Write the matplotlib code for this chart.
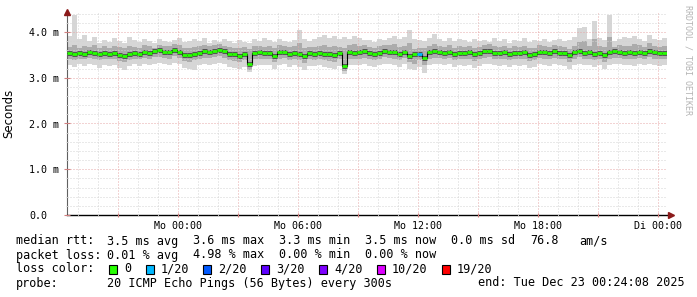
import numpy as np
import matplotlib
matplotlib.use('Agg')
import matplotlib.pyplot as plt
from matplotlib.patches import Rectangle

# ---- data (rtt values in 1/100 ms, one sample every 15 min) ----
start_h = -5.55          # hours relative to Mo 00:00
step_h = 0.25

median_rtt = [
    354, 352, 355, 353, 356, 354, 352, 355, 353, 354,
    350, 347, 352, 355, 353, 356, 354, 358, 360, 357,
    356, 361, 357, 350, 349, 352, 355, 358, 357, 359,
    361, 358, 353, 351, 348, 352, 330, 354, 356, 355,
    355, 348, 356, 357, 353, 355, 352, 347, 354, 353,
    355, 352, 351, 349, 354, 325, 356, 355, 356, 358,
    354, 353, 355, 359, 357, 356, 352, 357, 348, 351,
    352, 344, 356, 358, 357, 355, 357, 353, 355, 354,
    356, 351, 354, 358, 359, 355, 354, 356, 353, 355,
    354, 356, 350, 352, 357, 356, 354, 358, 355, 354,
    349, 356, 359, 355, 356, 353, 355, 349, 356, 358,
    357, 355, 356, 354, 357, 355, 359, 356, 354, 355,
]
max_rtt = [
    392, 437, 384, 393, 380, 388, 376, 382, 379, 386,
    381, 377, 389, 383, 378, 385, 380, 376, 384, 381,
    379, 383, 387, 378, 381, 384, 380, 386, 377, 382,
    379, 385, 381, 376, 383, 379, 377, 384, 380, 386,
    382, 378, 385, 381, 379, 383, 404, 384, 380, 385,
    388, 393, 386, 392, 384, 389, 385, 391, 387, 382,
    383, 378, 385, 382, 386, 391, 384, 388, 404, 385,
    382, 380, 386, 396, 384, 381, 387, 380, 385, 383,
    378, 385, 380, 383, 379, 387, 381, 384, 377, 382,
    380, 386, 379, 383, 381, 385, 378, 382, 384, 380,
    383, 390, 408, 412, 384, 425, 386, 383, 437, 380,
    385, 388, 386, 392, 384, 381, 394, 385, 382, 386,
]
hi_rtt = [
    368, 372, 366, 370, 367, 371, 365, 369, 366, 370,
    367, 364, 370, 368, 366, 371, 369, 365, 372, 370,
    369, 373, 371, 366, 365, 368, 370, 372, 369, 371,
    373, 370, 367, 365, 364, 368, 363, 369, 370, 368,
    369, 364, 371, 370, 367, 369, 375, 366, 368, 367,
    369, 371, 368, 370, 368, 366, 372, 373, 370, 371,
    368, 366, 369, 372, 371, 373, 367, 370, 377, 362,
    366, 365, 370, 374, 370, 368, 371, 366, 369, 368,
    370, 365, 368, 372, 373, 369, 367, 370, 366, 369,
    368, 370, 364, 366, 371, 369, 368, 372, 369, 368,
    363, 370, 378, 380, 369, 384, 370, 368, 388, 367,
    371, 369, 370, 374, 371, 368, 376, 370, 368, 369,
]
lo_rtt = [
    341, 339, 342, 340, 343, 341, 338, 342, 340, 341,
    337, 334, 339, 342, 340, 343, 341, 345, 346, 343,
    342, 347, 343, 336, 335, 338, 341, 344, 343, 345,
    347, 344, 339, 337, 334, 338, 318, 340, 342, 341,
    341, 334, 342, 343, 339, 341, 338, 333, 340, 339,
    341, 338, 337, 335, 340, 314, 342, 341, 342, 344,
    340, 339, 341, 345, 343, 342, 338, 343, 334, 331,
    338, 327, 342, 344, 343, 341, 343, 339, 341, 340,
    342, 337, 340, 344, 345, 341, 340, 342, 339, 341,
    340, 342, 336, 338, 343, 342, 340, 344, 341, 340,
    335, 342, 345, 341, 342, 339, 341, 335, 342, 344,
    343, 341, 342, 340, 343, 341, 345, 342, 340, 341,
]
min_rtt = [
    327, 324, 329, 326, 330, 327, 322, 328, 325, 327,
    322, 318, 325, 329, 326, 330, 327, 331, 333, 329,
    328, 333, 329, 321, 319, 317, 327, 330, 328, 331,
    333, 329, 324, 322, 319, 324, 312, 326, 328, 327,
    327, 319, 328, 329, 324, 327, 323, 318, 326, 325,
    327, 323, 322, 320, 326, 308, 328, 327, 328, 330,
    326, 324, 327, 331, 329, 328, 323, 329, 319, 316,
    324, 311, 328, 330, 329, 327, 329, 324, 327, 326,
    328, 322, 326, 330, 331, 327, 325, 328, 324, 327,
    326, 328, 321, 323, 329, 328, 325, 330, 327, 326,
    320, 328, 331, 327, 328, 324, 327, 320, 328, 330,
    329, 327, 328, 325, 329, 327, 331, 328, 325, 327,
]
loss_at = {70: 1}   # sample index -> lost pings (of 20)

loss_labels = ["0", "1/20", "2/20", "3/20", "4/20", "10/20", "19/20"]
loss_colors = ["#26ff00", "#00b8ff", "#0059ff", "#5e00ff", "#7e00ff", "#dd00ff", "#ff0000"]
loss_levels = [0, 1, 2, 3, 4, 10, 19]

xtick_pos = [-3, 0, 3, 6, 9, 12, 15, 18, 21, 24]
xtick_labels = ["", "Mo 00:00", "", "Mo 06:00", "", "Mo 12:00", "", "Mo 18:00", "", "Di 00:00"]
ytick_pos = [0, 1, 2, 3, 4]
ytick_labels = ["0.0", "1.0 m", "2.0 m", "3.0 m", "4.0 m"]

rtt_stats = ["3.5 ms avg", "3.6 ms max", "3.3 ms min", "3.5 ms now", "0.0 ms sd"]
rtt_extra = ["76.8", "am/s"]
loss_stats = ["0.01 % avg", "4.98 % max", "0.00 % min", "0.00 % now"]
probe_text = "20 ICMP Echo Pings (56 Bytes) every 300s"
end_text = "end: Tue Dec 23 00:24:08 2025"

# ---- figure ----
W, H = 697, 297
MONO = "DejaVu Sans Mono"


def fx(x):
    return x / W


def fy(y):
    return 1 - y / H


fig = plt.figure(figsize=(W / 100, H / 100), dpi=100, facecolor="white")
ax = fig.add_axes([fx(67), fy(215), 600 / W, 203 / H])

n = len(median_rtt)
edges = start_h + step_h * np.arange(n + 1)
med = np.array(median_rtt) / 100

# smoke
ax.stairs(np.array(max_rtt) / 100, edges, baseline=np.array(min_rtt) / 100,
          fill=True, color="#d6d6d6", lw=0, zorder=1)
ax.stairs(np.array(hi_rtt) / 100, edges, baseline=np.array(lo_rtt) / 100,
          fill=True, color="#acacac", lw=0, zorder=1.2)
# dark core round the median, then the median itself
ax.hlines(med, edges[:-1], edges[1:], colors="#404040", lw=3.6, alpha=0.8, zorder=1.5)
ax.stairs(med, edges, baseline=None, color="black", lw=0.8, zorder=3)

seg_colors = []
for i in range(n):
    lost = loss_at.get(i, 0)
    k = max(j for j, lv in enumerate(loss_levels) if lv <= lost)
    seg_colors.append(loss_colors[k])
ax.hlines(med, edges[:-1], edges[1:], colors=seg_colors, lw=2.0, zorder=3.5)

ax.set_xlim(start_h, start_h + 30)
ax.set_ylim(0, 203 / 45.75)

ax.set_xticks(xtick_pos)
ax.set_xticklabels(xtick_labels, fontfamily=MONO, fontsize=7.2)
ax.set_xticks(np.arange(-5, 25, 1), minor=True)
ax.set_yticks(ytick_pos)
ax.set_yticklabels(ytick_labels, fontfamily=MONO, fontsize=7.2)
ax.set_yticks(np.arange(0, 4.41, 0.2), minor=True)
plt.setp(ax.get_yticklabels(), ha="left")

ax.tick_params(axis="x", which="major", length=3, direction="inout", color="#d08080", pad=2.5)
ax.tick_params(axis="x", which="minor", length=2, direction="inout", color="#c8c8c8")
ax.tick_params(axis="y", which="major", length=4, direction="inout", color="#d08080", pad=25.2)
ax.tick_params(axis="y", which="minor", length=2, direction="inout", color="#c8c8c8")

ax.set_axisbelow(False)
ax.grid(which="major", color="#e6a8a8", linestyle=(0, (1, 2)), lw=0.72)
ax.grid(which="minor", color="#d4d4d4", linestyle=(0, (1, 2)), lw=0.72)

for s in ["top", "right"]:
    ax.spines[s].set_visible(False)
ax.spines["bottom"].set_color("black")
ax.spines["left"].set_color("#606060")
ax.spines["bottom"].set_linewidth(1.0)
ax.spines["left"].set_linewidth(0.8)

# axis arrows
ax.plot([0], [1.0], marker="^", ms=4, color="#8b1a1a", transform=ax.transAxes, clip_on=False, zorder=5)
ax.plot([1.0 + 4 / 600], [0], marker=">", ms=4, color="#8b1a1a", transform=ax.transAxes, clip_on=False, zorder=5)

ax.set_ylabel("Seconds", fontsize=8.5, fontfamily="DejaVu Sans")
ax.yaxis.set_label_coords((15 - 67) / 600, 0.5)

fig.text(fx(688), fy(5), "RRDTOOL / TOBI OETIKER", rotation=270, ha="center", va="top",
         fontsize=6, fontfamily=MONO, color="#b4b4b4")

# ---- legend ----
fs = 8.5
row_y = [241, 255, 269, 283]
col_x = [107, 193, 279, 365, 451]


def put(x, y, s):
    fig.text(fx(x), fy(y), s, ha="left", va="center", fontsize=fs, fontfamily=MONO, color="black")


put(16, row_y[0], "median rtt:")
for x, s in zip(col_x, rtt_stats):
    put(x, row_y[0], s)
put(530, row_y[0], rtt_extra[0])
put(579, row_y[0], rtt_extra[1])

put(16, row_y[1], "packet loss:")
for x, s in zip(col_x, loss_stats):
    put(x, row_y[1], s)

put(16, row_y[2], "loss color:")
box_x = [109, 146, 203, 261, 319, 377, 442]
for x, lab, c in zip(box_x, loss_labels, loss_colors):
    fig.add_artist(Rectangle((fx(x), fy(273.5)), 8 / W, 9 / H, transform=fig.transFigure,
                             facecolor=c, edgecolor="black", lw=0.8))
    put(x + 15, row_y[2], lab)

put(16, row_y[3], "probe:")
put(107, row_y[3], probe_text)
put(478, row_y[3], end_text)

fig.savefig("out.png", dpi=100, facecolor="white")
